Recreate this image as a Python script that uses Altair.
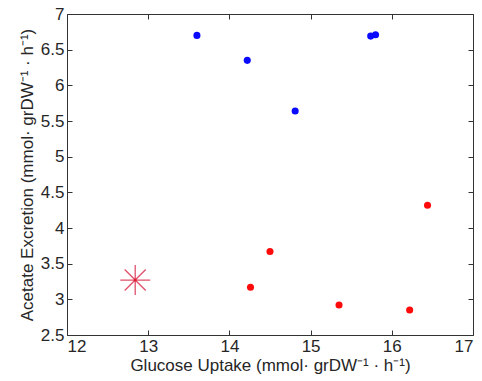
import altair as alt
import pandas as pd

blue_x = [13.60, 14.22, 14.81, 15.74, 15.80]
blue_y = [6.70, 6.35, 5.64, 6.69, 6.71]
red_x = [14.26, 14.50, 15.35, 16.22, 16.44]
red_y = [3.17, 3.67, 2.92, 2.85, 4.32]
star_x = [12.84]
star_y = [3.27]

x_ticks = [12, 13, 14, 15, 16, 17]
y_ticks = [2.5, 3, 3.5, 4, 4.5, 5, 5.5, 6, 6.5, 7]

blue = pd.DataFrame({"x": blue_x, "y": blue_y})
red = pd.DataFrame({"x": red_x, "y": red_y})
star = pd.DataFrame({"x": star_x, "y": star_y})

xs = alt.Scale(domain=[12, 17], nice=False, zero=False)
ys = alt.Scale(domain=[2.5, 7], nice=False, zero=False)
FONT = "Liberation Sans"

x_title = "Glucose Uptake (mmol\u00b7 grDW\u207b\u00b9 \u00b7 h\u207b\u00b9)"
y_title = "Acetate Excretion (mmol\u00b7 grDW\u207b\u00b9 \u00b7 h\u207b\u00b9)"

common = dict(domain=False, grid=False, tickSize=5, offset=-5, tickColor="#333333",
              tickWidth=1)

xb = alt.Axis(orient="bottom", values=x_ticks, title=x_title, labelFontSize=17,
              labelPadding=3, titleFontSize=17, titleFontWeight="normal",
              titlePadding=3, labelColor="#262626", titleColor="#262626",
              labelFont=FONT, titleFont=FONT, format="~g", **common)
yl = alt.Axis(orient="left", values=y_ticks, title=y_title, labelFontSize=17,
              labelPadding=3, titleFontSize=17, titleFontWeight="normal",
              titlePadding=4, labelColor="#262626", titleColor="#262626",
              labelFont=FONT, titleFont=FONT, format="~g", **common)
xt = alt.Axis(orient="top", values=x_ticks, title=None, labels=False, **common)
yr = alt.Axis(orient="right", values=y_ticks, title=None, labels=False, **common)

l1 = alt.Chart(blue).mark_point(filled=True, color="#0a0aff", size=50, opacity=1).encode(
    x=alt.X("x:Q", scale=xs, axis=xb),
    y=alt.Y("y:Q", scale=ys, axis=yl),
)
l2 = alt.Chart(red).mark_point(filled=True, color="#ff0a0a", size=50, opacity=1).encode(
    x=alt.X("x:Q", scale=xs, axis=xt),
    y=alt.Y("y:Q", scale=ys, axis=yr),
)
asterisk = "M-1,0L1,0M0,-1L0,1M-0.7,-0.7L0.7,0.7M-0.7,0.7L0.7,-0.7"
l3 = alt.Chart(star).mark_point(shape=asterisk, filled=False, color="#e0506a",
                                size=900, strokeWidth=1.3, opacity=1).encode(
    x=alt.X("x:Q", scale=xs, axis=None),
    y=alt.Y("y:Q", scale=ys, axis=None),
)
l4 = alt.Chart(star).mark_point(filled=True, color="#e02030", size=8, opacity=1).encode(
    x=alt.X("x:Q", scale=xs, axis=None),
    y=alt.Y("y:Q", scale=ys, axis=None),
)

chart = alt.layer(l1, l2, l3, l4).resolve_axis(x="independent", y="independent").properties(
    width=406, height=321,
    autosize=alt.AutoSizeParams(type="none"),
    padding={"left": 67, "top": 14, "right": 9, "bottom": 46},
    background="white",
).configure_view(stroke="#333333", strokeWidth=1)

chart.save("out.html", embed_options={"renderer": "svg", "actions": False})
